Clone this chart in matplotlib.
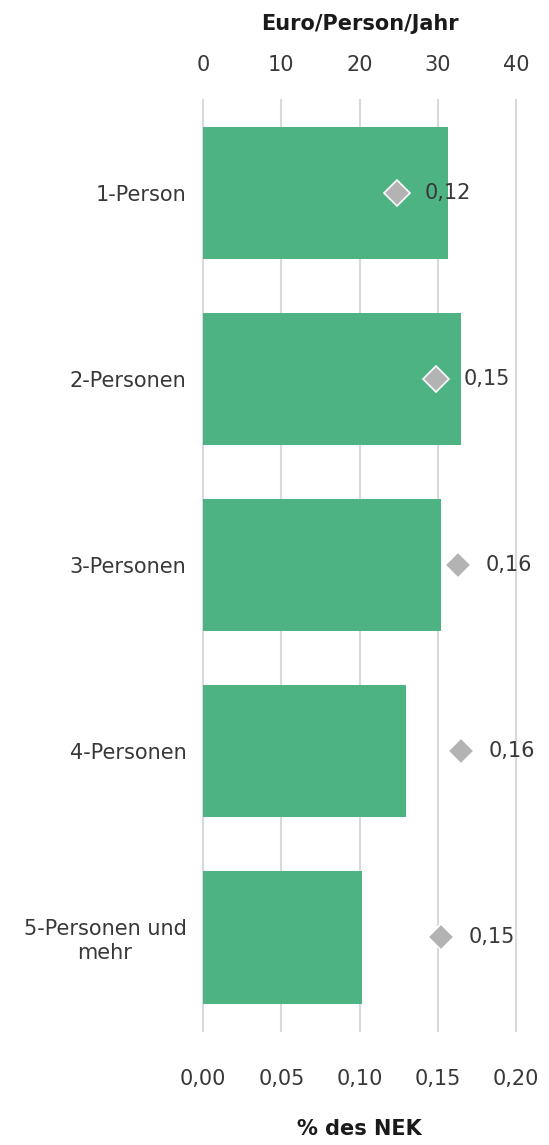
import matplotlib.pyplot as plt
from matplotlib import rcParams

rcParams['font.family'] = ['DejaVu Sans']
rcParams['font.size'] = 15

# Daten
kategorien = ['1-Person', '2-Personen', '3-Personen', '4-Personen', '5-Personen und\nmehr']
euro_pro_person = [31.3, 32.9, 30.4, 25.9, 20.3]
anteil_nek = [0.124, 0.149, 0.163, 0.165, 0.152]
anteil_labels = ['0,12', '0,15', '0,16', '0,16', '0,15']

bar_color = '#4db383'
diamond_color = '#b3b3b3'
text_color = '#383838'

fig = plt.figure(figsize=(5.49, 11.45), dpi=100)
ax = fig.add_axes([0.370, 0.100, 0.570, 0.813])
ax2 = ax.twiny()

y = list(range(len(kategorien)))
ax.barh(y, euro_pro_person, height=0.71, color=bar_color, zorder=2)
ax.set_xlim(0, 40)
ax.set_ylim(4.5, -0.5)
ax.set_xticks([0, 10, 20, 30, 40])
ax.xaxis.set_ticks_position('top')
ax.xaxis.set_label_position('top')
ax.set_xlabel('Euro/Person/Jahr', fontweight='bold', color='#1a1a1a', labelpad=18)
ax.set_yticks(y)
ax.set_yticklabels(kategorien, ha='right', multialignment='center')
ax.tick_params(axis='y', length=0, pad=12, colors=text_color)
ax.tick_params(axis='x', length=0, pad=18, colors=text_color)
ax.grid(axis='x', color='#d9d9d9', linewidth=1.5, zorder=0)
for gl in ax.get_xgridlines():
    gl.set_clip_on(False)
ax.set_axisbelow(True)
for s in ax.spines.values():
    s.set_visible(False)

# zweite Achse: % des NEK
ax2.set_xlim(0, 0.20)
ax2.set_xticks([0.00, 0.05, 0.10, 0.15, 0.20])
ax2.set_xticklabels(['0,00', '0,05', '0,10', '0,15', '0,20'])
ax2.xaxis.set_ticks_position('bottom')
ax2.xaxis.set_label_position('bottom')
ax2.set_xlabel('% des NEK', fontweight='bold', color='#1a1a1a', labelpad=22)
ax2.tick_params(axis='x', length=0, pad=27.5, colors=text_color)
for s in ax2.spines.values():
    s.set_visible(False)

ax2.plot(anteil_nek, y, 'D', color=diamond_color, markersize=13,
         markeredgecolor='white', markeredgewidth=1.2, zorder=3)
for xv, yv, lab in zip(anteil_nek, y, anteil_labels):
    ax2.annotate(lab, (xv, yv), xytext=(20, 0), textcoords='offset points',
                 ha='left', va='center', color=text_color)

fig.savefig('out.png', dpi=100)
